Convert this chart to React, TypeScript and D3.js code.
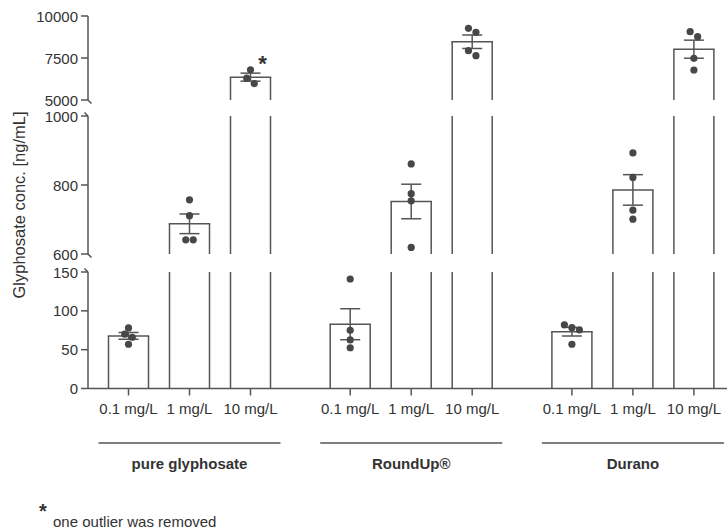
import React from "react";
import * as d3 from "d3";

// Treatment groups and applied glyphosate doses
const groups = ["pure glyphosate", "RoundUp®", "Durano"];
const doses = ["0.1 mg/L", "1 mg/L", "10 mg/L"];

// Replicate glyphosate concentrations [ng/mL], one row per dose
const pureGlyphosate = [
  [78, 70, 66, 57],
  [757, 711, 641, 641],
  [6800, 6300, 5980],
];
const roundUp = [
  [141, 75, 62.5, 52.5],
  [861, 775, 754, 619],
  [9268, 9030, 7935, 7637],
];
const durano = [
  [82, 78.3, 75.3, 57],
  [893, 822, 727, 701],
  [9065, 8768, 7480, 6786],
];
const seriesByGroup = [pureGlyphosate, roundUp, durano];

// Cells marked with an asterisk (outlier removed): [group, dose]
const starredCells = [[0, 2]];

// Broken y-axis: tick values of the three segments
const ticksLow = [0, 50, 100, 150];
const ticksMid = [600, 800, 1000];
const ticksHigh = [5000, 7500, 10000];

const W = 727;
const H = 531;
const AXIS_X = 88;
const BASE_Y = 388.5;
const INK = "#555";
const TEXT = "#333";
const FONT = "'Liberation Sans', Arial, sans-serif";

const segments = [
  { ticks: ticksLow, y: d3.scaleLinear().domain([0, 150]).range([BASE_Y, 272]) },
  { ticks: ticksMid, y: d3.scaleLinear().domain([600, 1000]).range([254, 116]) },
  { ticks: ticksHigh, y: d3.scaleLinear().domain([5000, 10000]).range([100, 16]) },
];

function segFor(v: number) {
  for (let i = segments.length - 1; i >= 0; i--) {
    if (v >= segments[i].y.domain()[0]) return segments[i];
  }
  return segments[0];
}
const yPos = (v: number) => segFor(v).y(v);

const groupScale = d3
  .scalePoint<string>()
  .domain(groups)
  .range([189.5, 632.9]);
const doseScale = d3.scalePoint<string>().domain(doses).range([-61, 61]);
const xCenter = (g: number, d: number) =>
  (groupScale(groups[g]) as number) + (doseScale(doses[d]) as number);

const BAR_W = 40;
const CAP = 10;

// Spread points that would overlap vertically into side-by-side rows
function spread(values: number[]) {
  const pts = values.map((v) => ({ v, py: yPos(v), dx: 0 })).sort((a, b) => a.py - b.py);
  const clusters: typeof pts[] = [];
  pts.forEach((p) => {
    const last = clusters[clusters.length - 1];
    if (last && p.py - last[last.length - 1].py < 6) last.push(p);
    else clusters.push([p]);
  });
  clusters.forEach((c) => c.forEach((p, k) => (p.dx = (k - (c.length - 1) / 2) * 7.5)));
  return pts;
}

function Bar({ g, d, values }: { g: number; d: number; values: number[] }) {
  const cx = xCenter(g, d);
  const mean = d3.mean(values) as number;
  const sem = (d3.deviation(values) as number) / Math.sqrt(values.length);
  const x0 = cx - BAR_W / 2;
  const x1 = cx + BAR_W / 2;
  const parts: React.ReactNode[] = [];
  segments.forEach((s, i) => {
    const [lo, hi] = s.y.domain();
    if (mean <= lo) return;
    const yb = s.y(lo);
    const yt = s.y(Math.min(mean, hi));
    parts.push(
      <g key={i}>
        <rect x={x0} y={yt} width={BAR_W} height={yb - yt} fill="#fff" />
        <line x1={x0} x2={x0} y1={yb} y2={yt} stroke={INK} strokeWidth={1.5} />
        <line x1={x1} x2={x1} y1={yb} y2={yt} stroke={INK} strokeWidth={1.5} />
        {mean <= hi && <line x1={x0 - 0.75} x2={x1 + 0.75} y1={yt} y2={yt} stroke={INK} strokeWidth={1.5} />}
      </g>
    );
  });
  const seg = segFor(mean);
  const eTop = seg.y(mean + sem);
  const eBot = seg.y(mean - sem);
  const pts = spread(values);
  return (
    <g>
      {parts}
      <line x1={cx} x2={cx} y1={eTop} y2={eBot} stroke={INK} strokeWidth={1.5} />
      <line x1={cx - CAP} x2={cx + CAP} y1={eTop} y2={eTop} stroke={INK} strokeWidth={1.5} />
      <line x1={cx - CAP} x2={cx + CAP} y1={eBot} y2={eBot} stroke={INK} strokeWidth={1.5} />
      {pts.map((p, k) => (
        <circle key={k} cx={cx + p.dx} cy={p.py} r={3.6} fill="#474747" />
      ))}
    </g>
  );
}

export default function App() {
  return (
    <svg
      width={W}
      height={H}
      style={{ position: "absolute", left: 0, top: 0, background: "#fff" }}
      fontFamily={FONT}
    >
      <rect width={W} height={H} fill="#fff" />

      {/* bars, error bars and replicate points */}
      {seriesByGroup.map((rows, g) =>
        rows.map((values, d) => <Bar key={`${g}-${d}`} g={g} d={d} values={values} />)
      )}

      {/* asterisk markers */}
      {starredCells.map(([g, d]) => {
        const top = d3.max(seriesByGroup[g][d]) as number;
        return (
          <text
            key={`s${g}${d}`}
            x={xCenter(g, d) + 12}
            y={yPos(top) + 1}
            fontSize={22}
            fontWeight="bold"
            textAnchor="middle"
            fill={TEXT}
          >
            *
          </text>
        );
      })}

      {/* broken y axis */}
      {segments.map((s, i) => {
        const [lo, hi] = s.y.domain();
        const yb = s.y(lo);
        const yt = s.y(hi);
        return (
          <g key={i}>
            <line x1={AXIS_X} x2={AXIS_X} y1={yt} y2={yb} stroke={INK} strokeWidth={1.5} />
            {i > 0 && (
              <line x1={AXIS_X} x2={AXIS_X + 3.5} y1={yb} y2={yb + 3.5} stroke={INK} strokeWidth={1.5} />
            )}
            {i < segments.length - 1 && (
              <line x1={AXIS_X - 3.5} x2={AXIS_X} y1={yt - 3.5} y2={yt} stroke={INK} strokeWidth={1.5} />
            )}
            {s.ticks.map((t) => (
              <g key={t}>
                <line x1={AXIS_X - 7} x2={AXIS_X} y1={s.y(t)} y2={s.y(t)} stroke={INK} strokeWidth={1.5} />
                <text
                  x={AXIS_X - 10}
                  y={s.y(t)}
                  textAnchor="end"
                  dominantBaseline="central"
                  fontSize={15}
                  fill={TEXT}
                >
                  {t}
                </text>
              </g>
            ))}
          </g>
        );
      })}

      <text
        transform={`translate(19,205) rotate(-90)`}
        textAnchor="middle"
        dominantBaseline="central"
        fontSize={16.5}
        fill={TEXT}
      >
        Glyphosate conc. [ng/mL]
      </text>

      {/* x axis */}
      <line x1={AXIS_X} x2={W} y1={BASE_Y} y2={BASE_Y} stroke={INK} strokeWidth={1.5} />
      {groups.map((name, g) => (
        <g key={name}>
          {doses.map((dose, d) => (
            <g key={dose}>
              <line
                x1={xCenter(g, d)}
                x2={xCenter(g, d)}
                y1={BASE_Y}
                y2={BASE_Y + 7}
                stroke={INK}
                strokeWidth={1.5}
              />
              <text
                x={xCenter(g, d)}
                y={408}
                textAnchor="middle"
                dominantBaseline="central"
                fontSize={15}
                fill={TEXT}
              >
                {dose}
              </text>
            </g>
          ))}
          <line
            x1={xCenter(g, 0) - 30}
            x2={xCenter(g, 2) + 30}
            y1={443}
            y2={443}
            stroke={INK}
            strokeWidth={1.5}
          />
          <text
            x={groupScale(name) as number}
            y={463}
            textAnchor="middle"
            dominantBaseline="central"
            fontSize={15}
            fontWeight="bold"
            fill={TEXT}
          >
            {name}
          </text>
        </g>
      ))}

      {/* footnote */}
      <text x={43} y={518} fontSize={20} fontWeight="bold" textAnchor="middle" fill={TEXT}>
        *
      </text>
      <text x={53} y={527} fontSize={15} fill={TEXT}>
        one outlier was removed
      </text>
    </svg>
  );
}
